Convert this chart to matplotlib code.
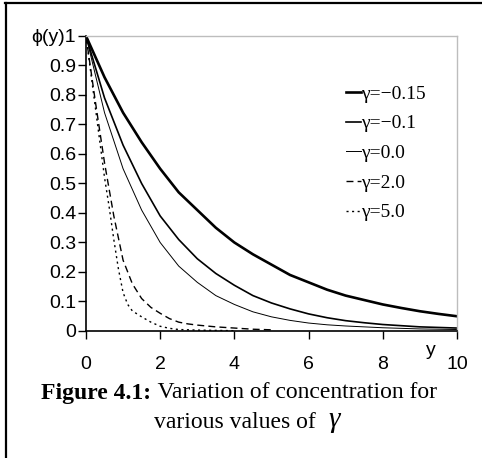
import matplotlib
matplotlib.use("Agg")
import matplotlib.pyplot as plt
from matplotlib.lines import Line2D

# values
y_long = [0, 0.5, 1, 1.5, 2, 2.5, 3, 3.5, 4, 4.5, 5, 5.5, 6, 6.5, 7, 7.5, 8, 8.5, 9, 9.5, 10]
phi_m015 = [1, 0.86, 0.74, 0.64, 0.55, 0.47, 0.41, 0.35, 0.30, 0.26, 0.225, 0.19, 0.165,
            0.14, 0.12, 0.105, 0.09, 0.078, 0.067, 0.058, 0.05]
phi_m01 = [1, 0.79, 0.63, 0.50, 0.39, 0.31, 0.245, 0.195, 0.155, 0.12, 0.095, 0.075, 0.058,
           0.045, 0.035, 0.028, 0.022, 0.018, 0.014, 0.012, 0.01]
phi_0 = [1, 0.74, 0.55, 0.41, 0.30, 0.22, 0.165, 0.12, 0.09, 0.065, 0.048, 0.036, 0.027,
         0.021, 0.017, 0.014, 0.011, 0.009, 0.007, 0.006, 0.005]

y_g2 = [0, 0.25, 0.5, 0.75, 1, 1.25, 1.5, 1.75, 2, 2.25, 2.5, 2.75, 3, 3.5, 4, 4.5, 5]
phi_2 = [1, 0.78, 0.57, 0.39, 0.24, 0.16, 0.11, 0.08, 0.06, 0.042, 0.03, 0.024, 0.02,
         0.014, 0.01, 0.006, 0.004]

y_g5 = [0, 0.125, 0.25, 0.375, 0.5, 0.625, 0.75, 0.875, 1, 1.125, 1.25, 1.5, 1.75, 2,
        2.25, 2.5, 3, 3.5, 4]
phi_5 = [1, 0.88, 0.76, 0.64, 0.52, 0.42, 0.31, 0.21, 0.13, 0.09, 0.068, 0.048, 0.03,
         0.016, 0.009, 0.005, 0.003, 0.002, 0.001]

labels = ["\u03b3=\u22120.15", "\u03b3=\u22120.1", "\u03b3=0.0", "\u03b3=2.0", "\u03b3=5.0"]
xticks = [0, 2, 4, 6, 8, 10]
yticks = [0, 0.1, 0.2, 0.3, 0.4, 0.5, 0.6, 0.7, 0.8, 0.9, 1]
ytick_labels = ["0", "0.1", "0.2", "0.3", "0.4", "0.5", "0.6", "0.7", "0.8", "0.9", "\u03d5(y)1"]

sans = "Liberation Sans"
serif = "Liberation Serif"

fig = plt.figure(figsize=(4.82, 4.58), dpi=100)
ax = fig.add_axes([0.1784, 0.2773, 0.948 - 0.1784, 0.9214 - 0.2773])

ax.plot(y_long, phi_m015, color="black", lw=1.9, label=labels[0])
ax.plot(y_long, phi_m01, color="black", lw=1.2, label=labels[1])
ax.plot(y_long, phi_0, color="black", lw=0.7, label=labels[2])
ax.plot(y_g2, phi_2, color="black", lw=1.0, ls=(0, (5, 3)), label=labels[3])
ax.plot(y_g5, phi_5, color="black", lw=1.0, ls=(0, (1.5, 2.5)), label=labels[4])

ax.set_xlim(0, 10)
ax.set_ylim(0, 1)
ax.set_xticks(xticks)
ax.set_xticklabels([str(t) for t in xticks], fontfamily=sans, fontsize=14)
ax.set_yticks(yticks)
ax.set_yticklabels(ytick_labels, fontfamily=sans, fontsize=14)
ax.tick_params(axis="x", direction="out", length=6, width=1, pad=12)
ax.tick_params(axis="y", direction="out", length=6, width=1, pad=1)

for side in ["top", "right"]:
    ax.spines[side].set_color("#bdbdbd")
    ax.spines[side].set_linewidth(1)
for side in ["left", "bottom"]:
    ax.spines[side].set_color("black")
    ax.spines[side].set_linewidth(1.2)

ax.text(9.3, -0.065, "y", ha="center", va="center", fontfamily=sans, fontsize=14, clip_on=False)

leg = ax.legend(loc="upper left", bbox_to_anchor=(0.68, 0.86), frameon=False,
                prop={"family": serif, "size": 14}, handlelength=0.75,
                handletextpad=0.05, labelspacing=0.62, borderaxespad=0)

# caption, line 1: bold part + normal part, centred as one line
fig.canvas.draw()
renderer = fig.canvas.get_renderer()
cap_y1 = 1 - 393 / 458
cap_y2 = 1 - 422 / 458
t1 = fig.text(0, cap_y1, "Figure 4.1:", fontfamily=serif, fontweight="bold",
              fontsize=17, ha="left", va="center")
t2 = fig.text(0, cap_y1, " Variation of concentration for", fontfamily=serif,
              fontsize=17, ha="left", va="center")
w1 = t1.get_window_extent(renderer).width / fig.bbox.width
w2 = t2.get_window_extent(renderer).width / fig.bbox.width
x0 = 239 / 482 - (w1 + w2) / 2
t1.set_x(x0)
t2.set_x(x0 + w1)

t3 = fig.text(0, cap_y2, "various values of  ", fontfamily=serif, fontsize=17,
              ha="left", va="center")
t4 = fig.text(0, cap_y2 + 0.004, "\u03b3", fontfamily=serif, fontstyle="italic",
              fontsize=21, ha="left", va="center")
w3 = t3.get_window_extent(renderer).width / fig.bbox.width
w4 = t4.get_window_extent(renderer).width / fig.bbox.width
x1 = 247 / 482 - (w3 + w4) / 2
t3.set_x(x1)
t4.set_x(x1 + w3)

# outer frame (top and left edges)
fig.add_artist(Line2D([5 / 482, 1], [1 - 3 / 458, 1 - 3 / 458], color="black", lw=1.6,
                      transform=fig.transFigure))
fig.add_artist(Line2D([6 / 482, 6 / 482], [1 - 3 / 458, 0], color="black", lw=1.6,
                      transform=fig.transFigure))

fig.savefig("out.png", dpi=100)
